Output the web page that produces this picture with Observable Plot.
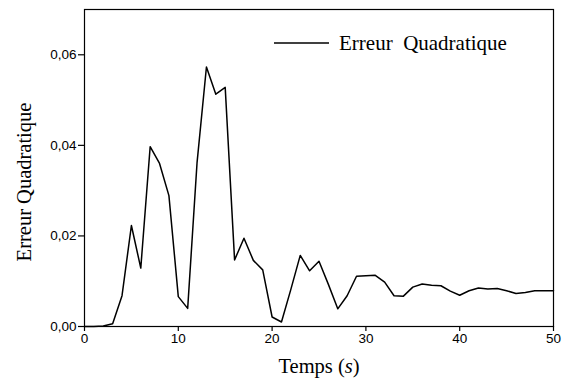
<!DOCTYPE html>
<html>
<head>
<meta charset="utf-8">
<script src="https://cdn.jsdelivr.net/npm/d3@7"></script>
<script src="https://cdn.jsdelivr.net/npm/@observablehq/plot@0.6"></script>
<style>
  html, body { margin: 0; padding: 0; background: #fff; }
  #chart svg { display: block; }
</style>
</head>
<body>
<div id="chart"></div>
<script>
const temps = [0,1,2,3,4,5,6,7,8,9,10,11,12,13,14,15,16,17,18,19,20,21,22,23,24,25,26,27,28,29,30,31,32,33,34,35,36,37,38,39,40,41,42,43,44,45,46,47,48,49,50];
const erreur = [0,0,0.0001,0.0006,0.0068,0.0223,0.0129,0.0397,0.0360,0.0289,0.0066,0.0040,0.0362,0.0573,0.0513,0.0528,0.0147,0.0195,0.0146,0.0125,0.0021,0.0010,0.0082,0.0157,0.0123,0.0144,0.0093,0.0039,0.0068,0.0111,0.0112,0.0113,0.0098,0.0068,0.0067,0.0087,0.0094,0.0091,0.0090,0.0078,0.0069,0.0079,0.0085,0.0083,0.0084,0.0079,0.0073,0.0075,0.0079,0.0079,0.0079];
const xTicks = [0,10,20,30,40,50];
const yTicks = [0,0.02,0.04,0.06];
const xTitle = "Temps (s)";
const yTitle = "Erreur Quadratique";
const legendLabel = "Erreur\u00a0 Quadratique";

const data = temps.map((t, i) => ({t, e: erreur[i]}));
const serif = "'Liberation Serif', 'Times New Roman', serif";
const sans = "'Liberation Sans', Arial, sans-serif";

const chart = Plot.plot({
  width: 563,
  height: 379,
  marginLeft: 84,
  marginRight: 10,
  marginTop: 9,
  marginBottom: 53,
  style: {fontFamily: sans, fontSize: "13.5px", color: "#000", background: "#fff"},
  x: {domain: [0, 50]},
  y: {domain: [0, 0.07]},
  marks: [
    Plot.frame({stroke: "#000", strokeWidth: 1.2}),
    Plot.axisX({ticks: xTicks, tickSize: 5, tickPadding: 2, label: null, fontSize: 13.5, stroke: "#000", strokeWidth: 1.2}),
    Plot.axisY({ticks: yTicks, tickSize: 6, tickPadding: 2, label: null, fontSize: 13.5, stroke: "#000", strokeWidth: 1.2,
      tickFormat: d => d.toFixed(2).replace(".", ",")}),
    Plot.line(data, {x: "t", y: "e", stroke: "#000", strokeWidth: 1.5}),
    Plot.text([xTitle], {frameAnchor: "bottom", dy: 46, text: d => d, fontFamily: serif, fontSize: 20.5, fill: "#000", className: "xtitle"}),
    Plot.text([yTitle], {frameAnchor: "left", textAnchor: "middle", dx: -60, dy: 14, rotate: -90, text: d => d, fontFamily: serif, fontSize: 20.5, fill: "#000"})
  ]
});

document.getElementById("chart").appendChild(chart);

// Italic "s" in the x title
const xt = d3.select(chart).select(".xtitle text");
if (!xt.empty()) {
  xt.text(null);
  xt.append("tspan").text("Temps (");
  xt.append("tspan").attr("font-style", "italic").text("s");
  xt.append("tspan").text(")");
}

// Legend inside the plot, top right
const svg = d3.select(chart);
const lg = svg.append("g").attr("class", "legend");
lg.append("line").attr("x1", 274).attr("x2", 329).attr("y1", 43).attr("y2", 43)
  .attr("stroke", "#000").attr("stroke-width", 1.5);
lg.append("text").attr("x", 339).attr("y", 50).attr("text-anchor", "start")
  .attr("font-family", serif).attr("font-size", 21).attr("fill", "#000")
  .style("white-space", "pre")
  .text(legendLabel);
</script>
</body>
</html>
